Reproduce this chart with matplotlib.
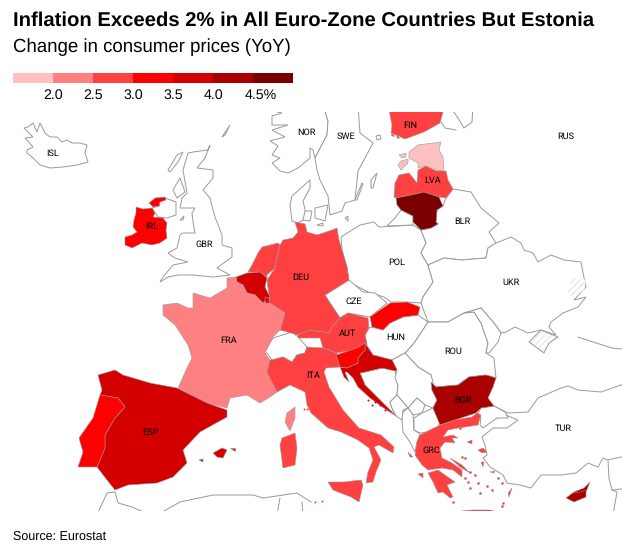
#!/usr/bin/env python3
# -*- coding: UTF-8 -*-
"""Euro-zone inflation choropleth, outlines traced in picture pixels."""

import matplotlib
matplotlib.use("Agg")
import matplotlib.pyplot as plt
from matplotlib.colors import BoundaryNorm, ListedColormap
from matplotlib.patches import Polygon

plt.rcParams['font.family'] = ['Liberation Sans', 'DejaVu Sans']
plt.rcParams['hatch.linewidth'] = 1.2
plt.rcParams['text.hinting'] = 'no_hinting'

TITLE = 'Inflation Exceeds 2% in All Euro-Zone Countries But Estonia'
SUBTITLE = 'Change in consumer prices (YoY)'
SOURCE = 'Source: Eurostat'

# colour scale
BINS = [1.5, 2.0, 2.5, 3.0, 3.5, 4.0, 4.5, 5.0]
BIN_COLORS = ['#ffc0c0', '#ff8080', '#ff4040', '#ff0000', '#d40000', '#aa0000', '#7a0000']
BIN_LABELS = ['2.0', '2.5', '3.0', '3.5', '4.0', '4.5%']

# inflation
VALUES = {
    'EST': 1.9, 'FRA': 2.3, 'DEU': 2.7, 'AUT': 2.8, 'ITA': 2.7, 'GRC': 2.8,
    'FIN': 2.9, 'LVA': 2.7, 'NLD': 2.7, 'IRL': 3.2, 'PRT': 3.1, 'SVK': 3.2,
    'SVN': 3.2, 'LUX': 3.3, 'ESP': 3.7, 'BEL': 3.9, 'HRV': 3.8, 'BGR': 4.2,
    'CYP': 4.2, 'LTU': 4.8,
}

# outlines of countries with data
IRL = [[(136,207),(143,209),(152,208),(155,213),(153,217),(163,218),(167,223),(166,230),(167,238),(160,243),(152,245),(142,243),(132,248),(125,245),(125,237),(132,235),(137,232),(133,227),(134,220),(136,213)],
       [(149,203),(155,198),(165,197),(166,200),(160,202),(159,206),(153,207)]]
FIN = [[(388,105),(445,105),(440,123),(424,132),(405,139),(391,133),(392,125)],
       [(391,135),(394,134),(394,137)],
       [(396,137),(399,136),(399,139)]]
EST = [[(409,152),(418,145),(441,142),(439,150),(443,157),(444,170),(436,171),(426,166),(418,168),(418,163),(409,158)],
       [(398,165),(401,161),(408,159),(408,163),(401,170)],
       [(399,155),(406,153),(406,157),(402,158)]]
LVA = [[(394,197),(395,183),(399,175),(409,173),(417,183),(418,170),(426,166),(436,171),(446,171),(448,180),(453,189),(446,198),(439,197),(424,192),(411,195),(396,198)]]
LTU = [[(396,198),(411,195),(424,192),(439,197),(443,206),(437,210),(436,222),(438,224),(431,228),(421,230),(413,222),(413,216),(401,210),(397,205)]]
DEU = [[(293,238),(298,232),(295,222),(305,224),(307,232),(317,235),(332,230),(337,228),(339,240),(342,250),(347,267),(349,280),(333,290),(325,295),(330,303),(340,318),(332,327),(329,333),(310,330),(298,335),(280,330),(285,313),(270,303),(268,288),(267,280),(275,268),(277,257),(280,245),(283,240)]]
NLD = [[(248,272),(252,265),(258,253),(262,247),(278,243),(280,245),(277,257),(275,268),(267,275),(267,278),(260,272)]]
BEL = [[(236,277),(247,273),(260,272),(267,278),(265,287),(270,297),(263,303),(255,295),(247,293),(243,285),(237,282)]]
LUX = [[(265,297),(269,298),(270,303),(265,303)]]
FRA = [[(227,278),(236,277),(237,282),(243,285),(247,293),(255,295),(263,303),(270,303),(285,313),(280,330),(273,337),(265,353),(270,360),(267,372),(277,392),(270,397),(260,403),(247,395),(230,398),(227,408),(207,403),(178,388),(187,368),(192,358),(188,345),(175,325),(163,315),(163,305),(177,303),(188,308),(193,308),(193,293),(210,298),(227,288)],
       [(295,407),(295,418),(290,431),(285,422),(287,413)]]
ESP = [[(98,375),(115,370),(123,375),(150,383),(177,388),(207,403),(227,410),(227,417),(200,432),(183,450),(187,463),(173,477),(157,483),(128,485),(115,490),(107,480),(97,467),(105,448),(105,435),(115,418),(125,407),(118,398),(100,395),(102,390)],
       [(213,453),(222,448),(227,450),(223,458),(217,457)],
       [(230,448),(235,448),(235,451)],
       [(199,460),(203,459),(203,462)]]
PRT = [[(100,395),(118,398),(125,407),(115,418),(105,435),(105,448),(97,467),(78,467),(83,452),(79,438),(93,418)]]
ITA = [[(277,392),(267,372),(270,360),(272,360),(283,357),(292,362),(297,355),(305,353),(307,347),(323,348),(337,353),(337,358),(340,367),(326,368),(324,372),(329,387),(343,410),(359,428),(381,435),(394,447),(393,453),(379,445),(374,447),(381,460),(376,472),(373,482),(366,483),(368,472),(373,460),(369,448),(358,440),(341,432),(328,428),(311,413),(307,405),(305,392),(290,385)],
       [(282,438),(295,433),(297,448),(295,465),(283,468),(280,445)],
       [(328,482),(344,482),(361,480),(363,485),(359,502),(351,497),(333,490)]]
AUT = [[(332,327),(340,318),(348,313),(368,318),(369,328),(365,335),(367,345),(353,350),(337,353),(323,348),(320,338),(298,338),(298,335),(310,330),(329,333)]]
SVK = [[(370,317),(380,310),(390,303),(407,302),(420,307),(418,315),(403,317),(390,323),(383,330),(372,327)]]
HRV = [[(365,343),(373,355),(392,360),(397,370),(395,371),(382,368),(365,372),(360,373),(365,385),(375,395),(385,405),(396,416),(385,409),(370,398),(358,387),(353,378),(347,372),(345,372),(349,382),(344,377),(340,367),(347,368),(358,363),(358,358),(365,350)]]
SVN = [[(336,355),(357,348),(365,343),(365,350),(358,358),(358,363),(347,368),(340,367),(337,358)]]
BGR = [[(431,382),(436,387),(458,385),(469,377),(486,375),(496,378),(493,387),(488,398),(494,406),(481,408),(476,413),(455,420),(440,425),(433,408),(437,400),(432,390)]]
GRC = [[(440,425),(455,420),(472,417),(477,413),(481,415),(478,425),(465,427),(458,428),(448,430),(443,437),(453,435),(458,438),(452,438),(455,443),(445,442),(440,448),(442,458),(452,463),(462,470),(462,477),(453,470),(442,468),(428,470),(422,465),(415,455),(417,442),(420,435)],
       [(428,473),(438,470),(455,482),(447,485),(453,497),(450,498),(443,492),(438,493),(433,482)],
       [(450,458),(462,465),(470,473),(460,467)],
       [(461,515),(462,511),(472,510),(490,510),(494,511),(494,515)],
       [(512,488),(509,497),(508,493)],
       [(478,450),(483,448),(487,452),(482,453)],
       [(467,442),(472,440),(472,444)],
       [(481,462),(484,462),(483,467)],
       [(490,472),(495,471),(494,473)],
       [(418,474),(423,473),(423,478)],
       [(408,452),(413,457),(410,457)]]
CYP = [[(566,498),(574,492),(584,488),(590,482),(586,492),(586,497),(574,502)]]

# outlines of countries without data
ISL = [[(24,128),(28,127),(33,123),(37,132),(40,123),(45,133),(50,137),(57,137),(62,142),(67,140),(72,143),(80,143),(87,145),(85,153),(88,162),(77,165),(63,167),(50,168),(40,165),(32,157),(27,153),(27,150),(33,147),(25,138),(33,137),(28,132)]]
GBR = [[(193,152),(208,150),(210,145),(205,158),(197,168),(213,170),(213,178),(203,190),(210,198),(215,217),(222,235),(222,245),(232,248),(232,257),(225,262),(217,268),(230,275),(213,277),(193,275),(178,275),(168,277),(160,282),(163,277),(173,265),(188,262),(175,258),(168,253),(177,248),(180,235),(183,233),(195,233),(193,222),(192,213),(195,208),(180,208),(182,198),(187,193),(183,170),(188,153)],
       [(165,198),(176,202),(176,215),(167,218),(158,217),(152,208),(159,206),(160,202)],
       [(168,170),(177,155),(183,152),(178,162),(170,172)],
       [(173,190),(180,178),(185,192),(177,198)],
       [(180,220),(184,216),(183,220)],
       [(222,137),(230,125),(225,135)]]
NOR = [[(273,105),(273,111),(282,113),(272,116),(272,125),(288,125),(272,130),(285,137),(270,141),(278,146),(272,155),(280,158),(272,163),(280,171),(288,173),(298,168),(310,158),(310,148),(313,150),(315,158),(327,135),(328,121),(323,105)]]
SWE = [[(323,105),(328,121),(327,135),(315,158),(317,170),(320,180),(328,196),(330,215),(342,211),(345,203),(355,200),(358,171),(365,158),(373,143),(360,133),(358,105)],
       [(371,180),(377,173),(373,188),(371,188)],
       [(362,183),(355,200),(357,200),(363,184)]]
ALA = [[(376,136),(380,135),(381,139),(377,140)]]
DNK = [[(292,196),(310,180),(310,188),(303,201),(307,218),(298,223),(292,221),(290,205)],
       [(305,211),(312,211),(310,221),(303,220)],
       [(315,208),(328,205),(325,221),(315,218)],
       [(317,225),(323,223),(323,226)],
       [(345,218),(348,216),(348,221)]]
POL = [[(341,237),(360,225),(374,222),(379,227),(413,225),(421,230),(426,243),(421,253),(428,265),(433,282),(423,297),(421,303),(406,302),(391,302),(384,297),(368,292),(349,282),(347,267),(342,250)]]
RUK = [[(387,226),(413,225),(413,216),(401,210),(395,218)]]
BLR = [[(453,189),(471,192),(481,208),(499,223),(489,232),(496,243),(488,248),(486,258),(461,260),(444,258),(428,265),(421,253),(426,243),(421,230),(431,228),(438,224),(436,222),(437,210),(443,206),(446,198)]]
UKR = [[(428,265),(444,258),(461,260),(486,258),(488,248),(496,243),(511,237),(521,243),(524,250),(533,253),(538,262),(551,255),(564,260),(581,262),(583,273),(586,287),(574,300),(586,297),(578,307),(563,313),(551,322),(549,327),(556,335),(541,330),(528,333),(515,327),(506,332),(501,333),(494,323),(481,308),(464,313),(448,322),(428,322),(421,303),(423,297),(433,282)]]
ROU = [[(428,322),(448,322),(464,313),(474,312),(481,323),(488,343),(486,353),(494,358),(496,378),(486,375),(469,377),(458,385),(436,387),(431,382),(431,375),(418,367),(405,353),(414,343)]]
MDA = [[(464,313),(481,308),(494,323),(501,333),(498,342),(489,353),(486,353),(488,343),(481,323),(474,312)]]
CZE = [[(325,295),(333,290),(349,280),(363,292),(375,293),(387,303),(370,317),(348,313),(340,318),(330,303)]]
HUN = [[(372,327),(383,330),(390,323),(403,317),(418,315),(428,322),(414,343),(405,353),(392,360),(373,355),(365,343),(367,345),(365,335),(369,328)]]
CHE = [[(262,355),(273,338),(292,332),(298,337),(307,347),(305,353),(297,355),(292,362),(283,357),(272,360),(267,353)]]
BIH = [[(395,370),(397,378),(398,385),(397,395),(390,402),(392,408),(396,416),(385,405),(375,395),(365,385),(360,373),(365,372),(382,368)]]
SRB = [[(392,360),(405,353),(418,367),(431,375),(433,382),(432,390),(437,400),(433,408),(425,405),(417,398),(408,408),(397,395),(398,385),(395,378),(397,370)]]
MNE = [[(397,395),(408,408),(403,410),(402,420),(396,416),(392,408),(390,402)]]
KOS = [[(408,408),(417,398),(425,405),(422,413),(413,415)]]
ALB = [[(402,420),(403,412),(408,408),(413,415),(414,430),(420,434),(417,442),(415,452),(410,442),(403,432)]]
MKD = [[(414,418),(422,413),(433,408),(440,422),(438,427),(427,432),(420,433),(414,430)]]
TUR = [[(494,406),(508,413),(528,412),(538,398),(561,388),(568,386),(578,390),(601,392),(621,385),(640,380),(640,457),(621,457),(608,460),(603,458),(598,467),(588,463),(576,473),(561,475),(541,475),(531,488),(520,485),(507,483),(503,475),(495,470),(490,467),(483,458),(487,455),(485,445),(482,437),(493,428),(507,428),(518,420),(508,416)],
       [(481,408),(494,406),(505,412),(508,418),(497,418),(483,428),(480,425),(481,418),(478,413)]]

# open coast and border lines
AFRICA_WEST = [(97,515),(107,493),(115,492),(118,503),(132,507),(150,515)]
AFRICA_EAST = [(157,515),(180,502),(213,495),(253,495),(263,498),(297,493),(311,502)]
ALGERIA_TUNISIA = [(277,515),(280,498)]
TUNISIA_LIBYA = [(303,515),(302,502)]
RUS_BALTIC = [(449,105),(458,118),(464,128),(472,122),(473,105)]
RUS_GULF = [(441,122),(445,128),(456,130)]
RUS_BLACK_SEA = [(578,337),(593,342),(612,348),(640,351)]
SYRIA_COAST = [(608,461),(609,478),(612,490),(617,492),(613,515)]
SYRIA_BORDER = [(612,490),(640,487)]
CYPRUS_LINE = [(574,493),(580,492),(586,490)]

# disputed areas, hatched
CRIMEA = [(529,342),(541,330),(558,337),(549,343),(544,353)]
DONBAS = [(566,290),(574,277),(586,280),(584,290),(573,298)]

# small islands: Greek, Croatian, Maltese
GRC_DOTS_X = [460,462,465,470,475,465,468,470,478,487,480,492,502,498,503,502,453]
GRC_DOTS_Y = [428,457,458,472,475,478,482,488,483,486,493,490,483,478,503,506,502]
HRV_DOTS_X = [368,375,380,385,372]
HRV_DOTS_Y = [400,402,405,410,405]
ITA_DOTS_X = [322,315,304,307]
ITA_DOTS_Y = [501,502,409,409]

# country codes on the map
LABELS = ['ISL','NOR','SWE','FIN','RUS','LVA','BLR','POL','UKR','CZE','DEU','AUT','HUN','ROU','BGR','TUR','GRC','ITA','ESP','FRA','IRL','GBR']
LABEL_X = [53,306,346,410,566,433,462,397,511,354,301,348,396,453,463,563,431,313,150,229,152,204]
LABEL_Y = [153,132,136,126,136,181,222,262,282,301,277,333,337,351,400,428,450,376,432,341,227,244]

BLANK = [ISL, GBR, NOR, SWE, ALA, DNK, POL, RUK, BLR, UKR, ROU, MDA, CZE, HUN, CHE, BIH, SRB, MNE, KOS, ALB, MKD, TUR]
FILLED = {'IRL': IRL, 'FIN': FIN, 'EST': EST, 'LVA': LVA, 'LTU': LTU, 'DEU': DEU, 'NLD': NLD, 'BEL': BEL,
          'FRA': FRA, 'ESP': ESP, 'PRT': PRT, 'ITA': ITA, 'AUT': AUT, 'SVK': SVK, 'HRV': HRV, 'SVN': SVN,
          'BGR': BGR, 'GRC': GRC, 'CYP': CYP, 'LUX': LUX}
OPEN_LINES = [AFRICA_WEST, AFRICA_EAST, ALGERIA_TUNISIA, TUNISIA_LIBYA, RUS_BALTIC, RUS_GULF, RUS_BLACK_SEA, SYRIA_COAST, SYRIA_BORDER]

EDGE = '#999999'


def main():
    W, H = 622, 549
    fig = plt.figure(figsize=(W / 100, H / 100), dpi=100)

    cmap = ListedColormap(BIN_COLORS)
    norm = BoundaryNorm(BINS, cmap.N)

    # map panel, cut off at y=112 and y=511 like the original
    ax = fig.add_axes([0, (H - 511) / H, 1, (511 - 112) / H])
    ax.set_xlim(0, W)
    ax.set_ylim(511, 112)
    ax.axis('off')

    for rings in BLANK:
        for ring in rings:
            ax.add_patch(Polygon(ring, closed=True, facecolor='white', edgecolor=EDGE, linewidth=0.7))
    for area in (CRIMEA, DONBAS):
        ax.add_patch(Polygon(area, closed=True, facecolor='white', edgecolor='#ececec', hatch='/////', linewidth=0))
    ax.add_patch(Polygon(CRIMEA, closed=True, fill=False, edgecolor=EDGE, linewidth=0.7))
    for line in OPEN_LINES:
        ax.plot(*zip(*line), color=EDGE, linewidth=0.7)
    for code, rings in FILLED.items():
        for ring in rings:
            ax.add_patch(Polygon(ring, closed=True, facecolor=cmap(norm(VALUES[code])), edgecolor=EDGE, linewidth=0.4))
    ax.plot(*zip(*CYPRUS_LINE), color='white', linewidth=0.5, linestyle=':')
    ax.scatter(GRC_DOTS_X, GRC_DOTS_Y, color=cmap(norm(VALUES['GRC'])), s=3, edgecolors=EDGE, linewidths=0.2)
    ax.scatter(HRV_DOTS_X, HRV_DOTS_Y, color=cmap(norm(VALUES['HRV'])), s=2, linewidths=0)
    ax.scatter(ITA_DOTS_X, ITA_DOTS_Y, color=cmap(norm(VALUES['ITA'])), s=2, linewidths=0)

    for code, x, y in zip(LABELS, LABEL_X, LABEL_Y):
        ax.text(x, y, code, fontsize=6.6, family=['Roboto', 'DejaVu Sans'], ha='center', va='center', color='black')

    # legend strip
    leg = fig.add_axes([13 / W, (H - 83) / H, 280 / W, 10 / H])
    leg.set_xlim(BINS[0], BINS[-1])
    leg.set_ylim(0, 1)
    leg.axis('off')
    leg.bar(BINS[:-1], 1, width=0.5, align='edge', color=BIN_COLORS)
    for tick, label in zip(BINS[1:], BIN_LABELS):
        if label.endswith('%'):
            leg.annotate(label, (tick, 0), xytext=(-6, -8.5), textcoords='offset points',
                         fontsize=10.2, ha='left', va='center', annotation_clip=False)
        else:
            leg.annotate(label, (tick, 0), xytext=(0, -8.5), textcoords='offset points',
                         fontsize=10.2, ha='center', va='center', annotation_clip=False)

    fig.text(13 / W, 1 - 20.5 / H, TITLE, fontsize=14.57, fontweight='bold', va='center', ha='left', color='black')
    fig.text(13 / W, 1 - 47.5 / H, SUBTITLE, fontsize=13.45, va='center', ha='left', color='black')
    fig.text(13 / W, 1 - 536.5 / H, SOURCE, fontsize=9, va='center', ha='left', color='black')

    fig.savefig('out.png', dpi=100, facecolor='white')


if __name__ == '__main__':
    main()
